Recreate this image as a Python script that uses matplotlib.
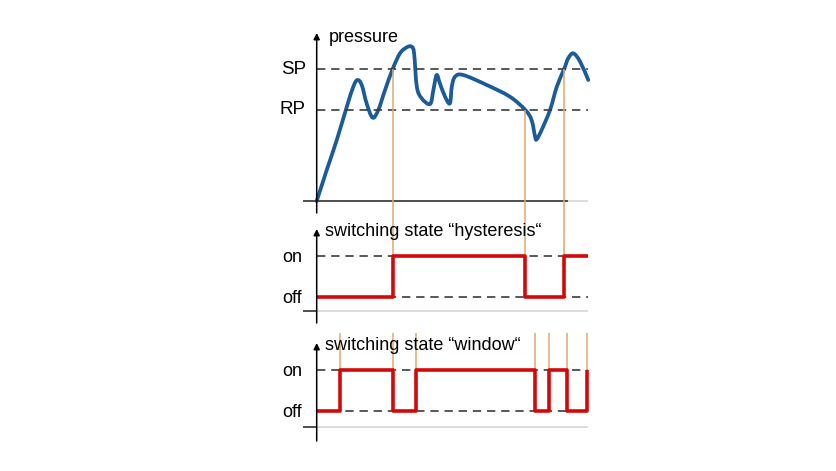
import matplotlib
matplotlib.use("Agg")
import matplotlib.pyplot as plt
import numpy as np
from matplotlib.path import Path
from matplotlib.patches import PathPatch

plt.rcParams['font.family'] = ['Liberation Sans', 'DejaVu Sans']

# ---------------- data ----------------
t_pressure = [0, 3.7, 7.4, 11.1, 13.5, 15.0, 16.6, 18.4, 20.6, 22.7, 25.2, 28.0, 30.7,
              33.2, 35.0, 35.9, 36.9, 38.7, 41.8, 43.0, 44.2, 45.4, 47.3, 49.1, 49.8,
              51.0, 54.0, 62.7, 71.2, 76.9, 79.2, 80.5, 81.1, 82.9, 86.0, 88.5, 91.2,
              92.7, 94.6, 97.1, 100.1]
pressure = [0, 18.6, 36.6, 56.6, 68.6, 72.6, 69.6, 58.6, 50.0, 54.6, 66.6, 79.2, 88.6,
            92.2, 92.6, 88.6, 68.6, 61.6, 58.2, 66.6, 75.6, 70.6, 62.6, 58.6, 68.6,
            74.6, 75.6, 69.6, 62.6, 54.6, 48.6, 38.6, 37.0, 42.6, 54.6, 68.6, 79.2,
            85.6, 88.6, 83.6, 72.6]
SP = 79.2
RP = 54.6

t_hyst = [0, 28.0, 76.9, 91.2, 100.1]
state_hyst = [0, 1, 0, 1, 1]
hyst_marks = [28.0, 76.9, 91.2]
hyst_mark_levels = [SP, RP, SP]

t_window = [0, 8.6, 28.2, 36.5, 80.5, 85.7, 92.2, 99.7, 99.9]
state_window = [0, 1, 0, 1, 0, 1, 0, 1, 1]

level_labels = ["on", "off"]
titles = ["pressure", "switching state \u201chysteresis\u201c", "switching state \u201cwindow\u201c"]
ref_labels = ["SP", "RP"]

# ---------------- layout helpers ----------------
W, H = 837, 471
fig = plt.figure(figsize=(W / 100, H / 100), dpi=100)

X0_PX, X100_PX = 316.7, 588.0
AX_L, AX_R = 270, 600


def make_ax(top_px, bot_px, y_a, py_a, y_b, py_b):
    ax = fig.add_axes([AX_L / W, 1 - bot_px / H, (AX_R - AX_L) / W, (bot_px - top_px) / H])
    k = 100 / (X100_PX - X0_PX)
    ax.set_xlim((AX_L - X0_PX) * k, (AX_R - X0_PX) * k)
    s = (y_b - y_a) / (py_a - py_b)  # data per px (upwards)
    ax.set_ylim(y_a - (bot_px - py_a) * s, y_a + (py_a - top_px) * s)
    ax.axis('off')
    return ax, k, s


def xpx(ax, px):
    k = 100 / (X100_PX - X0_PX)
    return (px - X0_PX) * k


blue = '#1b5b97'
red = '#d40808'
orange = '#dfa96b'
dash = '#3c3c3c'
lgray = '#d9d9d9'
dark = '#404040'

# ---------------- panel 1: pressure ----------------
ax1, k, s1 = make_ax(18, 215, 0, 201, SP, 69)
x_end = t_pressure[-1]
ax1.plot([xpx(ax1, 303), xpx(ax1, 568)], [0, 0], color=dark, lw=1.3, solid_capstyle='butt')
ax1.plot([xpx(ax1, 568), x_end], [0, 0], color=lgray, lw=1.3, solid_capstyle='butt')
for lv in (SP, RP):
    ax1.plot([0, x_end], [lv, lv], color=dash, lw=1.2, dashes=(5, 3.5))
ymin1 = ax1.get_ylim()[0]
for tm, lv in zip(hyst_marks, hyst_mark_levels):
    ax1.plot([tm, tm], [lv, ymin1], color=orange, lw=1.1, solid_capstyle='butt')

# smooth curve through the read points (Catmull-Rom -> cubic Bezier)
P = np.column_stack([t_pressure, pressure])
verts = [P[0]]
codes = [Path.MOVETO]
for i in range(len(P) - 1):
    p0 = P[i - 1] if i > 0 else P[i]
    p1 = P[i]
    p2 = P[i + 1]
    p3 = P[i + 2] if i + 2 < len(P) else P[i + 1]
    c1 = p1 + (p2 - p0) / 6
    c2 = p2 - (p3 - p1) / 6
    verts += [c1, c2, p2]
    codes += [Path.CURVE4] * 3
ax1.add_patch(PathPatch(Path(verts, codes), facecolor='none', edgecolor=blue, lw=2.7,
                        capstyle='round', joinstyle='round'))

ax1.annotate('', xy=(0, (201 - 33) * s1), xytext=(0, (201 - 213) * s1),
             arrowprops=dict(arrowstyle='-|>', color='black', lw=1.1,
                             mutation_scale=9, shrinkA=0, shrinkB=0))
ax1.text(xpx(ax1, 329), (201 - 38) * s1, titles[0], fontsize=13, va='center', ha='left')
ax1.text(xpx(ax1, 306), SP, ref_labels[0], fontsize=13.5, va='center', ha='right')
ax1.text(xpx(ax1, 306), RP, ref_labels[1], fontsize=13.5, va='center', ha='right')

# ---------------- panel 2: hysteresis ----------------
ax2, k, s2 = make_ax(215, 328, 0, 297.3, 1, 255.7)
base2 = -(311 - 297.3) * s2
ax2.plot([xpx(ax2, 303), 0], [base2, base2], color=dark, lw=1.3, solid_capstyle='butt')
ax2.plot([0, x_end], [base2, base2], color=lgray, lw=1.3, solid_capstyle='butt')
for lv in (0, 1):
    ax2.plot([0, x_end], [lv, lv], color=dash, lw=1.2, dashes=(5, 3.5))
ymax2 = ax2.get_ylim()[1]
for tm in hyst_marks:
    ax2.plot([tm, tm], [1, ymax2], color=orange, lw=1.1, solid_capstyle='butt')
ax2.step(t_hyst, state_hyst, where='post', color=red, lw=2.6, solid_capstyle='butt')
ax2.annotate('', xy=(0, (297.3 - 229) * s2), xytext=(0, (297.3 - 323) * s2),
             arrowprops=dict(arrowstyle='-|>', color='black', lw=1.1,
                             mutation_scale=9, shrinkA=0, shrinkB=0))
ax2.text(xpx(ax2, 325), (297.3 - 232) * s2, titles[1], fontsize=13, va='center', ha='left')
ax2.text(xpx(ax2, 302), 1 - 2 * s2, level_labels[0], fontsize=13, va='center', ha='right')
ax2.text(xpx(ax2, 302), 0 - 1.5 * s2, level_labels[1], fontsize=13, va='center', ha='right')

# ---------------- panel 3: window ----------------
ax3, k, s3 = make_ax(328, 462, 0, 411, 1, 370)
base3 = -(427.3 - 411) * s3
ax3.plot([xpx(ax3, 303), 0], [base3, base3], color=dark, lw=1.3, solid_capstyle='butt')
ax3.plot([0, x_end], [base3, base3], color=lgray, lw=1.3, solid_capstyle='butt')
for lv in (0, 1):
    ax3.plot([0, x_end], [lv, lv], color=dash, lw=1.2, dashes=(5, 3.5))
top3 = (411 - 333) * s3
for tm in t_window[1:-1]:
    ax3.plot([tm, tm], [1, top3], color=orange, lw=1.1, solid_capstyle='butt')
ax3.step(t_window[:-1], state_window[:-1], where='post', color=red, lw=2.6, solid_capstyle='butt')
ax3.annotate('', xy=(0, (411 - 343) * s3), xytext=(0, (411 - 441) * s3),
             arrowprops=dict(arrowstyle='-|>', color='black', lw=1.1,
                             mutation_scale=9, shrinkA=0, shrinkB=0))
ax3.text(xpx(ax3, 325), (411 - 346) * s3, titles[2], fontsize=13, va='center', ha='left')
ax3.text(xpx(ax3, 302), 1 - 2 * s3, level_labels[0], fontsize=13, va='center', ha='right')
ax3.text(xpx(ax3, 302), 0 - 1.5 * s3, level_labels[1], fontsize=13, va='center', ha='right')

fig.savefig('out.png', dpi=100)
